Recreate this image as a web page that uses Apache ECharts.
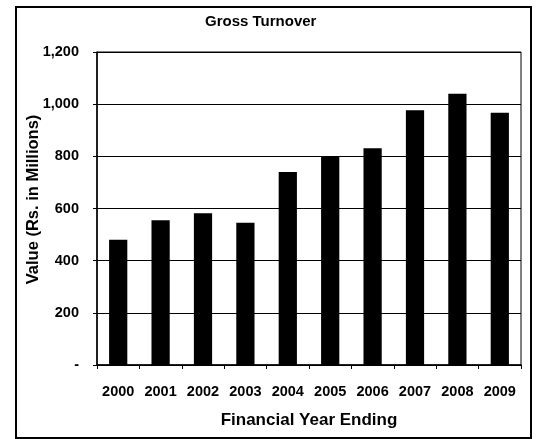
<!DOCTYPE html>
<html>
<head>
<meta charset="utf-8">
<script src="https://cdn.jsdelivr.net/npm/echarts@6/dist/echarts.min.js"></script>
<style>html,body{margin:0;padding:0;background:#fff}#c{width:537px;height:439px}</style>
</head>
<body>
<div id="c"></div>
<script>
var years = ['2000','2001','2002','2003','2004','2005','2006','2007','2008','2009'];
var turnover = [480, 555, 582, 545, 740, 797, 831, 977, 1040, 967];
var yTicks = [0, 200, 400, 600, 800, 1000, 1200];

var chart = echarts.init(document.getElementById('c'));
var font = '"Liberation Sans", Arial, sans-serif';
chart.setOption({
  animation: false,
  backgroundColor: '#fff',
  title: {
    text: 'Gross Turnover',
    left: 200, top: 9,
    textStyle: { fontFamily: font, fontWeight: 'bold', fontSize: 15, color: '#000' }
  },
  graphic: [{
    type: 'rect', silent: true,
    shape: { x: 16, y: 7, width: 515, height: 431 },
    style: { fill: 'none', stroke: '#000', lineWidth: 2 }
  }],
  grid: {
    left: 97, right: 16, top: 52, bottom: 74,
    show: true, borderColor: '#000', borderWidth: 1, backgroundColor: 'transparent'
  },
  xAxis: {
    type: 'category',
    data: years,
    name: 'Financial Year Ending',
    nameLocation: 'middle',
    nameGap: 47,
    nameMoveOverlap: false,
    nameTextStyle: { fontFamily: font, fontWeight: 'bold', fontSize: 17, color: '#000' },
    axisLine: { lineStyle: { color: '#000', width: 1.5 } },
    axisTick: { show: true, alignWithLabel: false, length: 4, lineStyle: { color: '#000' } },
    axisLabel: { interval: 0, margin: 19, fontFamily: font, fontWeight: 'bold', fontSize: 14.5, color: '#000' }
  },
  yAxis: {
    type: 'value',
    min: 0, max: 1200, interval: 200,
    name: 'Value (Rs. in Millions)',
    nameLocation: 'middle',
    nameGap: 55,
    nameMoveOverlap: false,
    nameTextStyle: { fontFamily: font, fontWeight: 'bold', fontSize: 16.5, color: '#000', padding: [0, 0, 0, 18] },
    axisLine: { show: true, lineStyle: { color: '#000', width: 1.5 } },
    axisTick: { show: true, length: 4, lineStyle: { color: '#000' } },
    splitLine: { show: true, lineStyle: { color: '#000', width: 1 } },
    axisLabel: {
      margin: 18,
      fontFamily: font, fontWeight: 'bold', fontSize: 14.5, color: '#000',
      formatter: function (v) {
        if (yTicks.indexOf(v) < 0) return '';
        return v === 0 ? '-' : v.toLocaleString('en-US');
      }
    }
  },
  series: [{
    type: 'bar',
    data: turnover,
    barWidth: '43%',
    itemStyle: { color: '#000' }
  }]
});
</script>
</body>
</html>
